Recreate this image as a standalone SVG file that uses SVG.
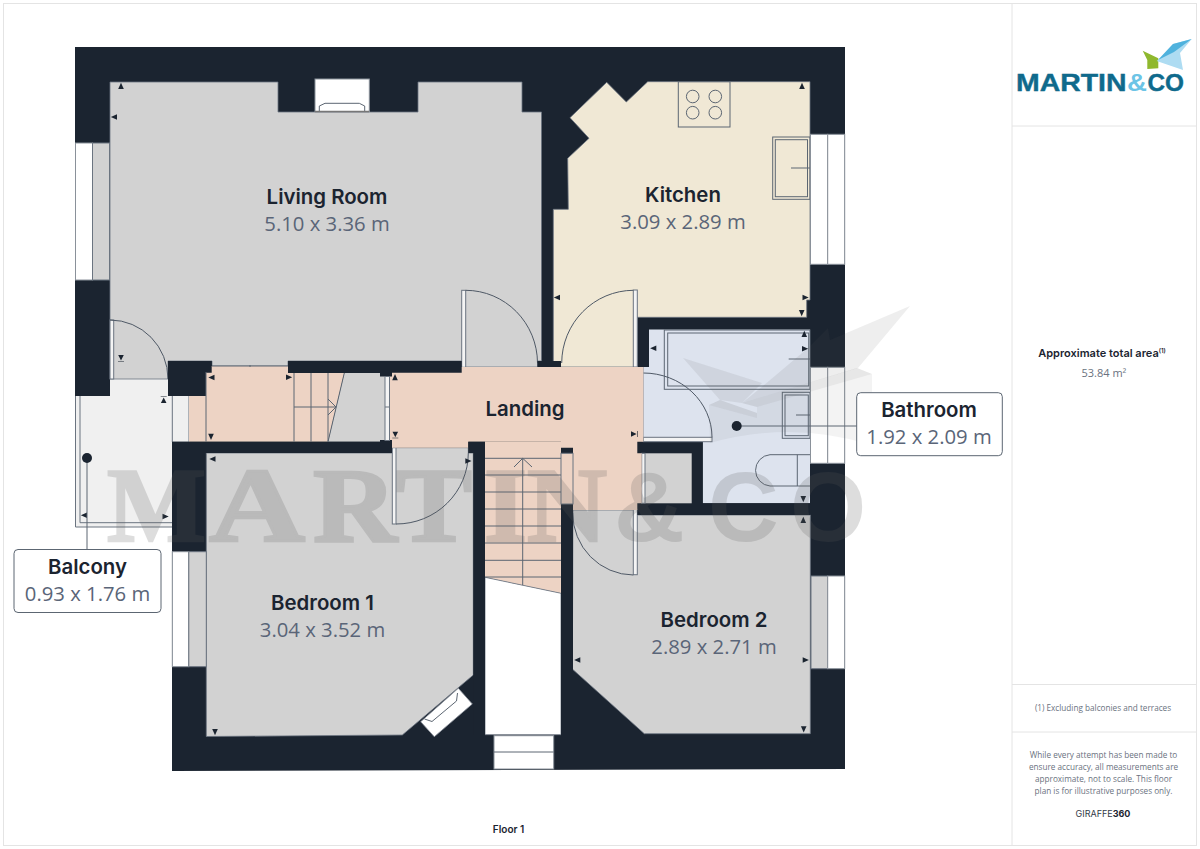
<svg xmlns="http://www.w3.org/2000/svg" width="1200" height="849" viewBox="0 0 1200 849">
<defs>
<path id="t" d="M0,-3.2 L2.8,3 H-2.8z" fill="#1b2430"/>
<path id="tb" d="M0,-2.6 L2.8,3 H-2.8z M-3,-3.6 H3 V-3 H-3z" fill="#1b2430"/>
</defs>
<style>
.wall{fill:#1b2430}
.gray{fill:#d2d2d2}
.e{stroke:#6b7480;stroke-width:.8}
.f{fill:none;stroke:#5c6672;stroke-width:1}
.arc{fill:none;stroke:#4f5966;stroke-width:1}
.w{fill:#fff;stroke:#8a919a;stroke-width:1}
.wg{fill:#d2d2d2;stroke:#6b7480;stroke-width:1}
.p{fill:#f4f4f4;stroke:#6b7480;stroke-width:1}
.tt{font-family:Inter,"Liberation Sans",sans-serif;font-weight:600;font-size:20.4px;fill:#1b2430;text-anchor:middle}
.dd{font-family:"Open Sans","Liberation Sans",sans-serif;font-size:20.3px;fill:#5a6578;text-anchor:middle}
.s{font-family:"Open Sans","Liberation Sans",sans-serif;font-size:8.2px;fill:#6a7280;text-anchor:middle}
.frame{fill:none;stroke:#e4e4e4;stroke-width:1}
.wm{fill:#5c5c5c;opacity:.2}
.ws{font-family:"Liberation Serif",serif;font-weight:700;font-size:106px;stroke:#5c5c5c;stroke-width:2.5px}
.box{fill:#fff;stroke:#5c6672;stroke-width:1}
</style>
<rect width="1200" height="849" fill="#fff"/>
<g id="frame">
<rect class="frame" x="3.5" y="3.5" width="1193" height="842"/>
<path class="frame" d="M1012,3.5V845.5M1012,126H1196.5M1012,684.5H1196.5M1012,732H1196.5"/>
</g>
<g id="walls">
<path class="wall" d="M75,47H845V769L172,771V396H75z"/>
</g>
<g id="balcony-room">
<path fill="#f0f0f0" d="M75.5,396H168V379H110V396H172V441.7H189V396H172V527H75.5z"/>
<path fill="#f0f0f0" d="M110,379H168V396H110z"/>
<path fill="none" stroke="#6b7480" stroke-width="1" d="M75.5,396V527H172M80,396V522.7H172M172.3,396V442M189,396V442"/>
</g>
<g id="living-room">
<path class="gray e" d="M110,82H278V112H418V82H522V112H541.5V361H537.5V367H462V361H288V366H212V361H168V379H110z"/>
<rect class="w" x="315" y="79" width="54.3" height="32.7"/>
<path class="f" d="M319.3,111V106L325,103.3H359.3L364.7,106V111"/>
<path d="M315,111.5H369" stroke="#777" stroke-width="1.5"/>
<rect class="w" x="75.5" y="143" width="17" height="137"/>
<rect class="wg" x="92.5" y="143" width="17" height="137"/>
<rect class="p" x="110" y="320" width="3.7" height="59"/>
<path class="arc" d="M110,320A58,59 0 0 1 168,379"/>
<rect class="p" x="461.7" y="290.3" width="4" height="77"/>
<path class="arc" d="M465.7,290.3A72,73 0 0 1 537.5,363"/>
</g>
<g id="kitchen">
<path fill="#f0e8d5" stroke="#6b7480" stroke-width=".8" d="M647.7,81.7H810V300H806.7V317.3H637.3V367H553.3V209.3H568.3L567.7,158.3L589,138.3L570,117.7L606.7,82.3L626.3,102z"/>
<rect x="537.5" y="361" width="23.5" height="11.7" class="wall"/>
<rect x="678.3" y="81.7" width="51.7" height="45.3" class="f"/>
<circle class="f" cx="692.7" cy="96.5" r="6.3"/><circle class="f" cx="715.3" cy="96.5" r="6.3"/>
<circle class="f" cx="692.7" cy="112.7" r="6.3"/><circle class="f" cx="715.3" cy="112.7" r="6.3"/>
<rect class="f" x="772.7" y="137" width="37.3" height="62.3"/>
<rect class="f" x="775.3" y="139.7" width="32.2" height="57"/>
<path class="f" d="M791,168H810"/>
<rect class="w" x="810.5" y="134.3" width="17.2" height="130"/>
<rect class="w" x="827.7" y="134.3" width="17" height="130"/>
<rect class="p" x="633.3" y="290" width="4" height="77"/>
<path class="arc" d="M633.3,290.3A72,73 0 0 0 561.7,363"/>
</g>
<g id="bedroom-1">
<path class="gray e" d="M206.3,453H392V447.7H468.3V453H473.3V675L402.3,735L206.3,736.5z"/>
<rect class="w" x="172.3" y="551.7" width="16.5" height="115"/>
<rect class="wg" x="188.8" y="551.7" width="17.5" height="115"/>
<path fill="#fff" stroke="#8a919a" stroke-width=".8" d="M458.3,688.3L472.3,704L434.3,736.7L420.7,721.7z"/>
<path class="f" d="M424.5,719L432,721.5L456.5,701L457.5,693"/>
<rect class="p" x="392.3" y="447.7" width="3.7" height="76.3"/>
<path class="arc" d="M396,524A72,71 0 0 0 468.3,453"/>
</g>
<g id="bedroom-2">
<path class="gray e" d="M573,510H637.3V515H810.3V733.7H644.3L572.3,669z"/>
<rect class="wg" x="811" y="576" width="16.7" height="92.7"/>
<rect class="w" x="827.7" y="576" width="17" height="92.7"/>
<rect class="p" x="633.3" y="509.3" width="4" height="65.4"/>
<path class="arc" d="M633.3,575A61,62 0 0 1 572.7,513"/>
</g>
<g id="bathroom">
<path fill="#dde3ee" d="M649,329.5H810V503.3H702.7V441.7H643.3V367H649z"/>
<path class="wall" d="M637.3,441.7H702.7V503.3H810V515H637.3V503.3H691.7V453.3H637.3z"/>
<rect class="gray" x="645" y="453.3" width="46.7" height="50"/>
<rect class="f" x="664.3" y="330" width="145.7" height="59.3"/>
<rect class="f" x="667.7" y="333" width="141" height="53"/>
<path class="f" d="M788.7,359H810"/>
<rect class="f" x="782.3" y="392.3" width="27.7" height="46"/>
<rect class="f" x="785" y="395" width="23.3" height="40.7"/>
<path class="f" d="M796,415H810"/>
<path class="f" d="M810,454.7H770A15.7,15.7 0 0 0 770,486H810M797.3,454.7V486"/>
<rect class="p" x="643.3" y="437.3" width="68.7" height="4.4"/>
<path class="arc" d="M643.3,373A68.7,64.3 0 0 1 712,437.3"/>
<rect class="w" x="810.5" y="367.3" width="17.2" height="96"/>
<rect class="w" x="827.7" y="367.3" width="17" height="96"/>
<rect class="p" x="641.7" y="453.3" width="3.3" height="50"/>
</g>
<g id="landing">
<path fill="#edd3c4" d="M389,367H643.3V441.7H637.3V453.3H641.7V503.3H637.3V510H573V453H561V441.7H468.3V447.7H389z"/>
<path fill="#edd3c4" d="M189,396H206V366H288V373H344.3L328,441.7H189z"/>
<path class="gray" d="M344.3,373H385V441.7H328z"/>
<path class="f" d="M212,366H288M250,365V367"/>
<path class="wall" d="M168,361H211.7V372.7H206V396H168zM288,361H461.7V372.7H392V376.5H380V372.7H288zM172,441.7H392V453H172zM380,440H392V442H380z"/>
<path class="f" d="M206,372V441.7M294,373V441.7M311,373V441.7M328,373V441.7M344.3,373L328,441.7M294,407H336M328,399L336,407L328,415"/>
<rect class="p" x="385" y="376.5" width="4.5" height="64"/>
<path d="M385,407H389.5" stroke="#6b7480"/>
<path fill="#edd3c4" d="M485,441.7H561V593.3L485,577.3z"/>
<path fill="#fff" stroke="#6b7480" stroke-width=".8" d="M485,577.3L561,593.3V734.7H485z"/>
<path class="wall" d="M468.3,441.7H485V735H473.3V453H468.3z"/>
<path class="wall" d="M561,447.7H573V453.3H561zM561,504H573V735H561z"/>
<rect x="561" y="453.3" width="12" height="50.7" fill="#edd3c4" stroke="#6b7480" stroke-width="1"/>
<path class="f" d="M485,458.3H561M485,475H561M485,492H561M485,509H561M485,526H561M485,543H561M485,560.3H561M485,577H561M522.7,458.3V585M514,467L522.7,458.3L532,467"/>
<rect x="494" y="735.7" width="59.7" height="33.3" class="w"/>
<path class="f" d="M494,752H553.7"/>
</g>
<g id="measure-ticks">
<use href="#t" x="121" y="86"/>
<use href="#t" transform="translate(114 117) rotate(-90)"/>
<use href="#t" x="802" y="86"/>
<use href="#t" transform="translate(557 297.5) rotate(-90)"/>
<use href="#t" transform="translate(805.5 297.5) rotate(90)"/>
<use href="#t" transform="translate(801.7 313) rotate(180)"/>
<use href="#t" x="804.3" y="334"/>
<use href="#tb" transform="translate(121 358) rotate(180)"/>
<use href="#tb" x="163.7" y="400"/>
<use href="#t" transform="translate(211.5 377.5) rotate(-90)"/>
<use href="#t" transform="translate(289 377.3) rotate(90)"/>
<use href="#t" transform="translate(211 436.7) rotate(180)"/>
<use href="#t" x="395" y="377.3"/>
<use href="#tb" transform="translate(395.3 434.7) rotate(180)"/>
<use href="#t" transform="translate(212.5 459) rotate(-90)"/>
<use href="#t" transform="translate(84 515.3) rotate(-90)"/>
<use href="#t" transform="translate(165.5 516.5) rotate(90)"/>
<use href="#t" transform="translate(468.3 461) rotate(90)"/>
<use href="#tb" transform="translate(634 434) rotate(90)"/>
<use href="#t" transform="translate(653.3 348.3) rotate(-90)"/>
<use href="#t" transform="translate(805 348.7) rotate(90)"/>
<use href="#t" transform="translate(803.3 499) rotate(180)"/>
<use href="#t" x="803.3" y="520"/>
<use href="#t" transform="translate(215 732) rotate(180)"/>
<use href="#t" transform="translate(577.3 660) rotate(-90)"/>
<use href="#t" transform="translate(805.7 660) rotate(90)"/>
<use href="#t" transform="translate(803.7 729.3) rotate(180)"/>
</g>
<g id="watermark">
<text class="wm ws" x="107" y="540.5" textLength="99" lengthAdjust="spacingAndGlyphs">M</text>
<text class="wm ws" x="209" y="540.5" textLength="96" lengthAdjust="spacingAndGlyphs">A</text>
<text class="wm ws" x="313" y="540.5" textLength="84" lengthAdjust="spacingAndGlyphs">R</text>
<text class="wm ws" x="396" y="540.5" textLength="76" lengthAdjust="spacingAndGlyphs">T</text>
<text class="wm ws" x="484" y="540.5" textLength="43" lengthAdjust="spacingAndGlyphs">I</text>
<text class="wm ws" x="527" y="540.5" textLength="80" lengthAdjust="spacingAndGlyphs">N</text>
<text class="wm" x="614 708 790" y="541" font-family="Liberation Sans,sans-serif" font-weight="700" font-size="98">&amp;CO</text>
<path class="wm" style="opacity:.1" d="M910,306L858,368L742,403L763,386L808,348L828,328L830,340zM683,358L762,383L742,403L720,400z"/>
<path class="wm" style="opacity:.07" d="M709,405L757,418V407L872,374V445Q790,420 710,443z"/>
<path class="wm" style="opacity:.15" d="M742,403L857,368L872,374L757,407zM709,405L720,400L757,413V418z"/>
</g>
<g id="connectors">
<path d="M87,458V549" stroke="#5c6672" stroke-width="1" fill="none"/>
<path d="M736.7,426H857" stroke="#5c6672" stroke-width="1" fill="none"/>
<circle cx="87" cy="458" r="5" fill="#1b2430"/>
<circle cx="736.7" cy="426" r="5" fill="#1b2430"/>
</g>
<g id="label-living"><text class="tt" x="327" y="204">Living Room</text><text class="dd" x="327" y="231">5.10 x 3.36 m</text></g>
<g id="label-kitchen"><text class="tt" x="683" y="202.3">Kitchen</text><text class="dd" x="683" y="229.3">3.09 x 2.89 m</text></g>
<g id="label-landing"><text class="tt" x="525" y="415.7">Landing</text></g>
<g id="label-bedroom-1"><text class="tt" x="322.5" y="610">Bedroom 1</text><text class="dd" x="322.5" y="637">3.04 x 3.52 m</text></g>
<g id="label-bedroom-2"><text class="tt" x="714" y="626.7">Bedroom 2</text><text class="dd" x="714" y="653.7">2.89 x 2.71 m</text></g>
<g id="label-bathroom"><rect class="box" x="856.7" y="392.7" width="145.6" height="63" rx="4"/><text class="tt" x="929" y="417.3">Bathroom</text><text class="dd" x="929" y="444.3">1.92 x 2.09 m</text></g>
<g id="label-balcony"><rect class="box" x="14" y="549.5" width="147" height="63" rx="4"/><text class="tt" x="87.5" y="574">Balcony</text><text class="dd" x="87.5" y="601">0.93 x 1.76 m</text></g>
<g id="label-floor"><text x="508.5" y="833" font-family="Inter,Liberation Sans,sans-serif" font-weight="600" font-size="10" fill="#1b2430" text-anchor="middle">Floor 1</text></g>
<g id="logo">
<path fill="#8fb82e" d="M1142.7,50.7L1158.3,58.3V68.3L1147.3,69V60z"/>
<path fill="#aedcf2" d="M1158,60L1173,44L1191.7,39L1180,53L1183,70L1156.7,61z"/>
<path fill="#4fb2dd" d="M1158,60L1173,44L1191.7,39L1174,52z"/>
<text x="1016" y="91" font-family="Liberation Sans,sans-serif" font-weight="700" font-size="24" fill="#0f6a8c" stroke="#0f6a8c" stroke-width=".4" textLength="110.5" lengthAdjust="spacingAndGlyphs">MARTIN</text>
<text x="1127" y="91" font-family="Liberation Sans,sans-serif" font-weight="700" font-size="24" fill="#6cc4e6" textLength="20" lengthAdjust="spacingAndGlyphs">&amp;</text>
<text x="1147.5" y="91" font-family="Liberation Sans,sans-serif" font-weight="700" font-size="24" fill="#0f6a8c" stroke="#0f6a8c" stroke-width=".4" textLength="36.5" lengthAdjust="spacingAndGlyphs">CO</text>
</g>
<g id="side-panel">
<text x="1102" y="357" font-family="Inter,Liberation Sans,sans-serif" font-weight="600" font-size="11" fill="#1b2430" text-anchor="middle">Approximate total area<tspan font-size="6" dy="-4">(1)</tspan></text>
<text class="s" x="1104" y="377" style="font-size:11px">53.84 m²</text>
<text class="s" x="1103" y="710.5">(1) Excluding balconies and terraces</text>
<text class="s" x="1103.5" y="758">While every attempt has been made to</text>
<text class="s" x="1103.5" y="770">ensure accuracy, all measurements are</text>
<text class="s" x="1103.5" y="782">approximate, not to scale. This floor</text>
<text class="s" x="1103.5" y="794">plan is for illustrative purposes only.</text>
<text x="1103" y="817" font-family="Inter,Liberation Sans,sans-serif" font-size="9" fill="#333b47" text-anchor="middle">GIRAFFE<tspan font-weight="700" fill="#1b2430">360</tspan></text>
</g>
</svg>
